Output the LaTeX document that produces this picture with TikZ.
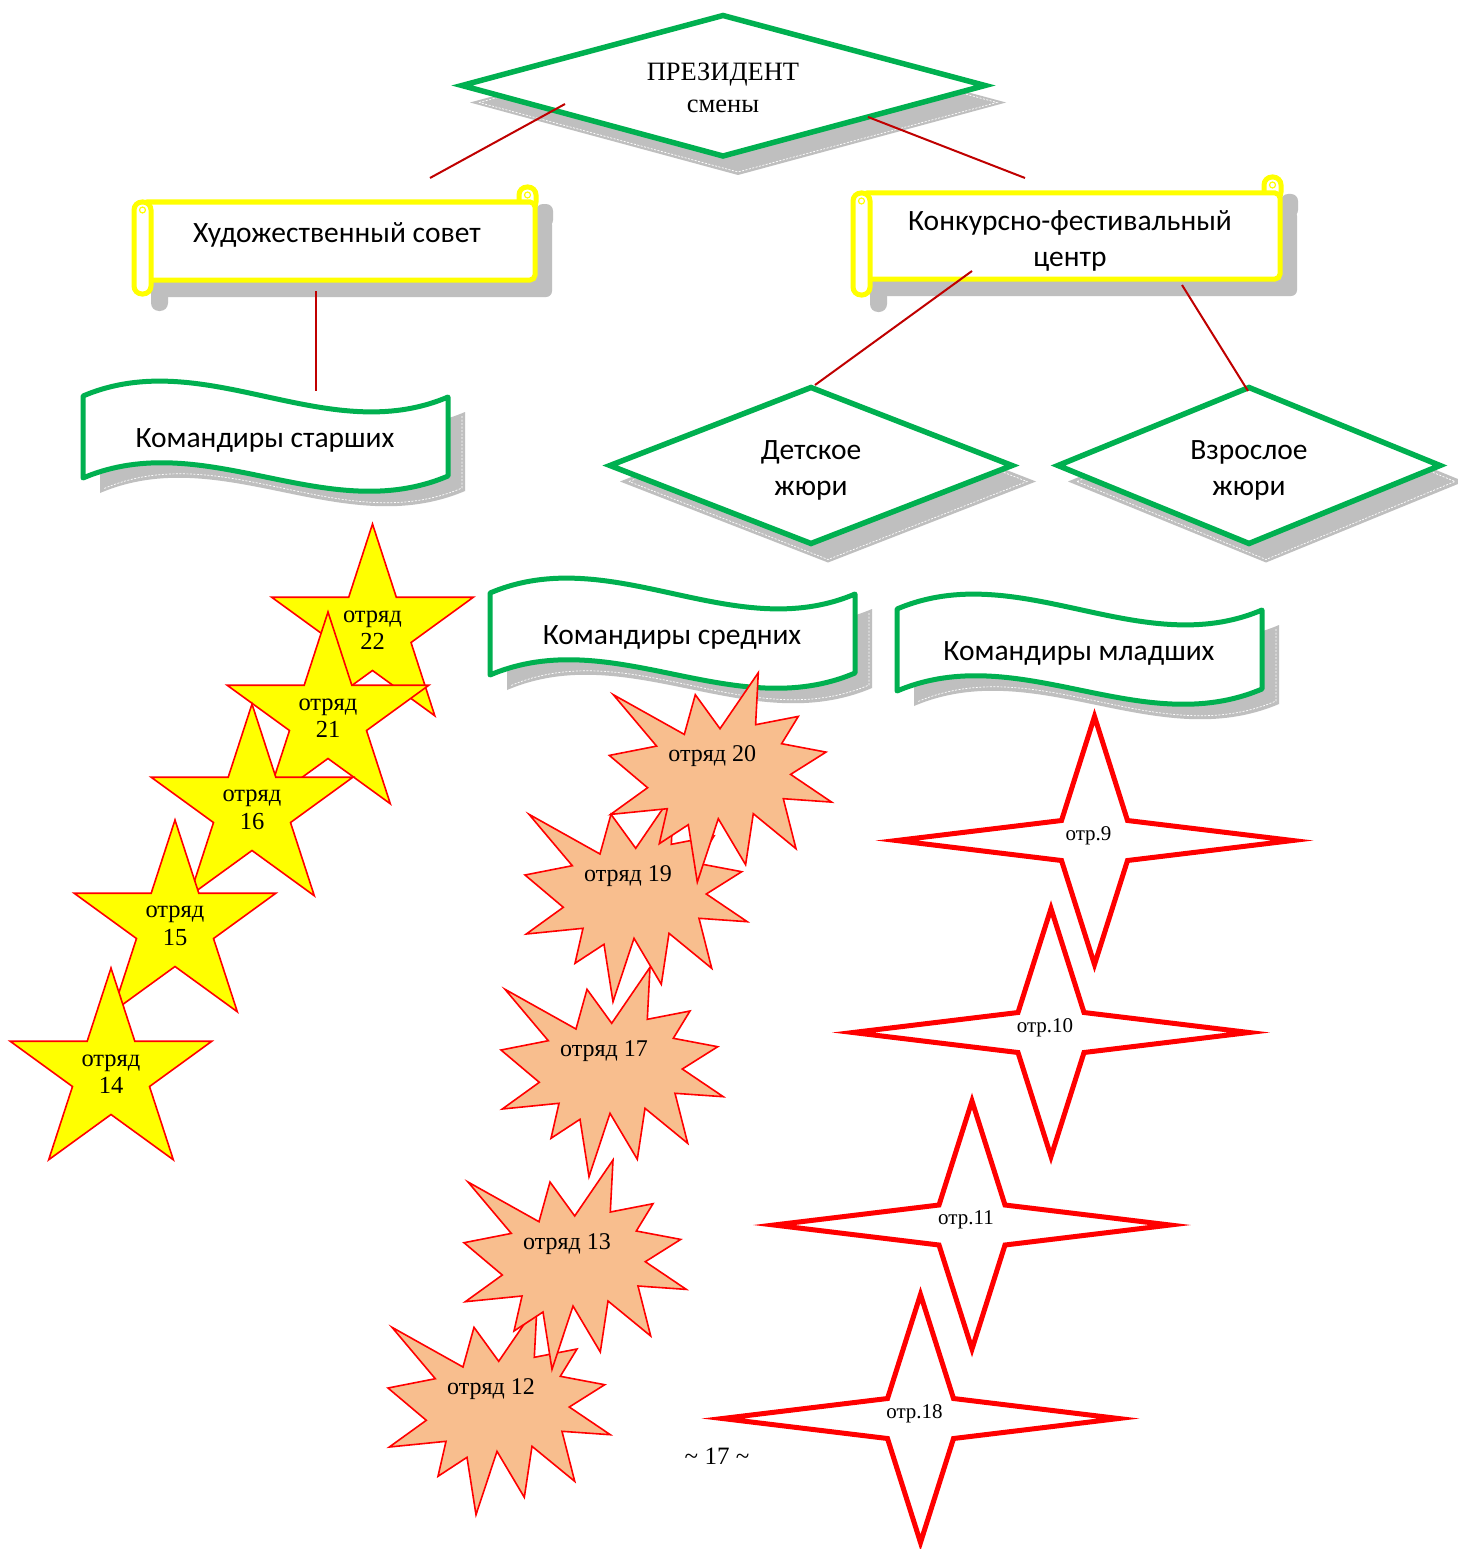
\documentclass[tikz,border=0pt]{standalone}
\usepackage{fontspec}
\setmainfont{Liberation Serif}
\newfontfamily\sansfnt{Carlito}
\usetikzlibrary{calc}
\definecolor{grn}{HTML}{00B050}
\definecolor{lnred}{HTML}{C00000}
\definecolor{peach}{RGB}{248,190,142}
\definecolor{shd}{HTML}{BFBFBF}
\definecolor{ylw}{HTML}{FFFF00}
\definecolor{rd}{HTML}{FF0000}

\newcommand\ystar[3]{%
\begin{scope}[shift={(#1,#2)}]
\path[yellowstar] (-90:106) -- (-54:40.5) -- (-18:106) -- (18:40.5) -- (54:106) -- (90:40.5) -- (126:106) -- (162:40.5) -- (198:106) -- (234:40.5) -- cycle;
\node[starlbl] (star#3) at (0,0) {отряд\\#3};
\end{scope}}

\newcommand\burstshape[3]{%
\begin{scope}[shift={(#1,#2)}]
\path[burst] (505,989.3) -- (576,1029) -- (587,989.3) -- (611.7,1023.3) -- (650,967.3) -- (647.3,1019.3) -- (690,1011) -- (673.3,1038.3) -- (717.7,1046.7) -- (682.3,1069) -- (723.3,1096.7) -- (675,1093.3) -- (687.7,1143.3) -- (645,1108.3) -- (637.3,1159.3) -- (610,1113.3) -- (589,1176.7) -- (580,1119.3) -- (551,1138.3) -- (559,1103.3) -- (502.3,1109) -- (539.3,1082.3) -- (501,1050) -- (548.3,1040.7) -- cycle;
\node[burstlbl] (burst#3) at (604,1051) {отряд #3};
\end{scope}}

\newcommand\fstar[4]{%
\begin{scope}[shift={(#1,#2)}]
\path[fourstar] (0,-124) -- (33,-20) -- (198,0) -- (33,20) -- (0,124) -- (-33,20) -- (-198,0) -- (-33,-20) -- cycle;
\node[smalllbl] (#3) at (-6,-5) {#4};
\end{scope}}

\newcommand\wavebanner[4]{%
\begin{scope}[shift={(#1,#2)}]
\fill[shd] (100,411) .. controls (222,359) and (343,464) .. (465,412) -- (465,491) .. controls (343,543) and (222,441) .. (100,493) -- cycle;
\draw[shadowdash] (462,416) -- (462,488) .. controls (343,539) and (222,437) .. (103,489);
\path[wavebox] (83,396) .. controls (205,344) and (326,449) .. (448,397) -- (448,476) .. controls (326,528) and (205,426) .. (83,478) -- cycle;
\node[sanslbl] (#3) at (265,440) {#4};
\end{scope}}

\newcommand\jdiamond[6]{% cx cy a b name text
\fill[shd] (#1+17-#3-7,#2+16) -- (#1+17,#2+16-#4-3) -- (#1+17+#3+7,#2+16) -- (#1+17,#2+16+#4+3) -- cycle;
\draw[shadowdash] (#1+17-#3+2,#2+16) -- (#1+17,#2+16-#4) -- (#1+17+#3-2,#2+16) -- (#1+17,#2+16+#4) -- cycle;
\path[diamondbox] (#1-#3,#2) -- (#1,#2-#4) -- (#1+#3,#2) -- (#1,#2+#4) -- cycle;
\node[sanslbl] (#5) at (#1,#2+5) {#6};}

\begin{document}
\begin{tikzpicture}[x=1pt,y=-1pt,
  shadowdash/.style={draw=white, dash pattern=on 2pt off 1.5pt, line width=0.7pt},
  diamondbox/.style={draw=grn, line width=5.5pt, fill=white, line join=miter},
  scrollbox/.style={draw=ylw, line width=5pt, fill=white},
  wavebox/.style={draw=grn, line width=5pt, fill=white, line join=round},
  yellowstar/.style={draw=rd, fill=ylw, line width=1.6pt, line join=miter},
  burst/.style={draw=rd, fill=peach, line width=1.6pt, line join=miter},
  fourstar/.style={draw=rd, fill=white, line width=5pt, line join=miter},
  connector/.style={draw=lnred, line width=2pt},
  seriflbl/.style={font=\fontsize{26.5}{32}\selectfont, align=center, inner sep=0pt},
  sanslbl/.style={font=\sansfnt\fontsize{29.5}{36}\selectfont, align=center, inner sep=0pt},
  starlbl/.style={font=\fontsize{24.5}{27.5}\selectfont, align=center, inner sep=0pt},
  burstlbl/.style={font=\fontsize{24}{28}\selectfont, inner sep=0pt},
  smalllbl/.style={font=\fontsize{21}{24}\selectfont, inner sep=0pt},
]
\useasboundingbox (0,0) rectangle (1457,1549);
\fill[white] (0,0) rectangle (1457,1549);

% ---------- President diamond ----------
\fill[shd] (470,102.5) -- (738,30.5) -- (1006,102.5) -- (738,175) -- cycle;
\draw[shadowdash] (479,102.5) -- (738,33.5) -- (997,102.5) -- (738,172) -- cycle;
\path[diamondbox] (462,85.5) -- (723,15.5) -- (985,85.5) -- (723,156) -- cycle;
\node[seriflbl] (pres) at (723,88) {ПРЕЗИДЕНТ\\смены};

% ---------- Scroll 1 ----------
\begin{scope}[shift={(17,17)}]
\fill[shd, rounded corners=7] (519,187) rectangle (536,210);
\fill[shd, rounded corners=6] (142,202) rectangle (535,280);
\fill[shd, rounded corners=8] (134,202) rectangle (151,294);
\end{scope}
\draw[scrollbox, rounded corners=8] (519,187) rectangle (536,210);
\draw[scrollbox, rounded corners=5] (142,202) rectangle (535,280);
\draw[scrollbox, rounded corners=8] (134,202) rectangle (151,294);
\draw[ylw, line width=1.2pt] (527.5,195) circle (3);
\draw[ylw, line width=1.2pt] (142.5,210) circle (3);
\node[sanslbl] (hud) at (337,235) {Художественный совет};

% ---------- Scroll 2 ----------
\begin{scope}[shift={(17,17)}]
\fill[shd, rounded corners=7] (1264,177) rectangle (1281,200);
\fill[shd, rounded corners=6] (862,193) rectangle (1280,279);
\fill[shd, rounded corners=8] (853,193) rectangle (870,295);
\end{scope}
\draw[scrollbox, rounded corners=8] (1264,177) rectangle (1281,200);
\draw[scrollbox, rounded corners=5] (862,193) rectangle (1280,279);
\draw[scrollbox, rounded corners=8] (853,193) rectangle (870,295);
\draw[ylw, line width=1.2pt] (1272.5,185) circle (3);
\draw[ylw, line width=1.2pt] (861.5,201) circle (3);
\node[sanslbl] (konk) at (1070,241) {Конкурсно-фестивальный\\центр};

% ---------- Wave banners ----------
\wavebanner{0}{0}{starsh}{Командиры старших}
\wavebanner{407}{197}{sredn}{Командиры средних}
\wavebanner{814}{213}{mladsh}{Командиры младших}

% ---------- Jury diamonds ----------
\jdiamond{811}{465.5}{201}{78}{djury}{Детское\\жюри}
\jdiamond{1249}{465.5}{191}{78}{vjury}{Взрослое\\жюри}

% ---------- Yellow stars ----------
\ystar{372.5}{630}{22}
\ystar{328}{718}{21}
\ystar{252}{810}{16}
\ystar{175}{926}{15}
\ystar{111}{1074}{14}

% ---------- Bursts ----------
\burstshape{-113}{338}{12}
\burstshape{-37}{192.7}{13}
\burstshape{0}{0}{17}
\burstshape{24}{-175}{19}
\burstshape{108.3}{-294.6}{20}

% ---------- Four-point stars ----------
\fstar{1094.5}{840.5}{o9}{отр.9}
\fstar{1051}{1032.5}{o10}{отр.10}
\fstar{972}{1225}{o11}{отр.11}
\fstar{920.5}{1418.5}{o18}{отр.18}

% ---------- page number ----------
\node[font=\fontsize{25}{28}\selectfont, inner sep=0pt] (pagenum) at (717,1456) {\textasciitilde{} 17 \textasciitilde};

% ---------- Connectors ----------
\coordinate (c1a) at (565,104);  \coordinate (c1b) at (430,178);
\coordinate (c2a) at (868,117);  \coordinate (c2b) at (1025,178);
\coordinate (c3a) at (316,291);  \coordinate (c3b) at (316,391);
\coordinate (c4a) at (972,271);  \coordinate (c4b) at (815,385);
\coordinate (c5a) at (1182,285); \coordinate (c5b) at (1248,391);
\draw[connector] (c1a) -- (c1b);
\draw[connector] (c2a) -- (c2b);
\draw[connector] (c3a) -- (c3b);
\draw[connector] (c4a) -- (c4b);
\draw[connector] (c5a) -- (c5b);
\end{tikzpicture}
\end{document}
